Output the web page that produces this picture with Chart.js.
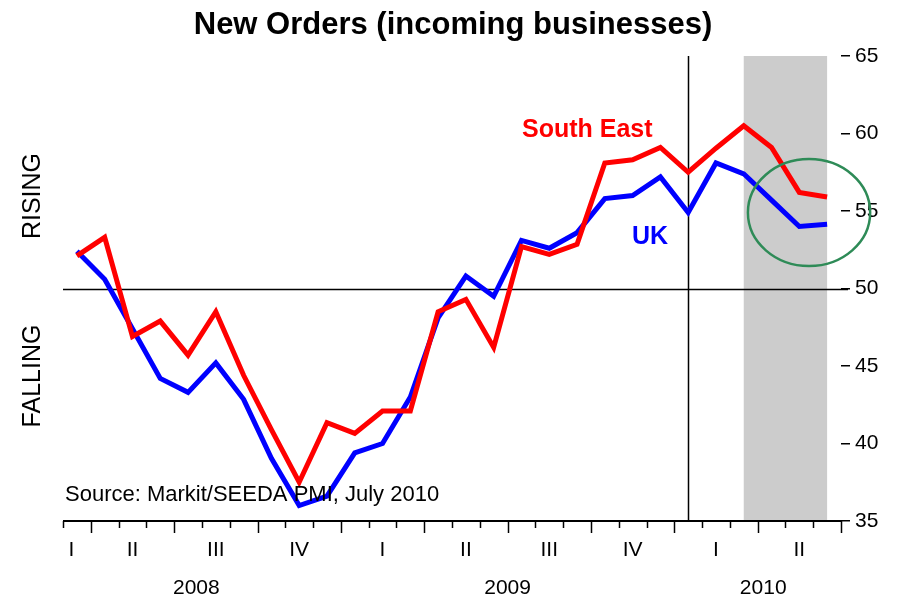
<!DOCTYPE html>
<html>
<head>
<meta charset="utf-8">
<script src="https://cdn.jsdelivr.net/npm/chart.js@4.4.1/dist/chart.umd.min.js"></script>
<style>
  html, body { margin: 0; padding: 0; background: #ffffff; }
  #wrap { width: 899px; height: 600px; }
</style>
</head>
<body>
<div id="wrap"><canvas id="c" width="899" height="600"></canvas></div>
<script>
// ---- Data (monthly, Mar 2008 .. Jun 2010) ----
const months = ['Mar 08','Apr 08','May 08','Jun 08','Jul 08','Aug 08','Sep 08','Oct 08','Nov 08','Dec 08',
                'Jan 09','Feb 09','Mar 09','Apr 09','May 09','Jun 09','Jul 09','Aug 09','Sep 09','Oct 09','Nov 09','Dec 09',
                'Jan 10','Feb 10','Mar 10','Apr 10','May 10','Jun 10'];
const southEast = [52.1, 53.3, 46.9, 47.9, 45.7, 48.5, 44.4, 40.9, 37.5, 41.35, 40.65, 42.1, 42.1, 48.5,
                   49.3, 46.2, 52.7, 52.2, 52.85, 58.1, 58.3, 59.1, 57.5, 59.05, 60.5, 59.1, 56.2, 55.9];
const uk        = [52.4, 50.6, 47.4, 44.2, 43.3, 45.2, 42.85, 39.05, 36.0, 36.6, 39.4, 40.0, 43.0, 48.1,
                   50.8, 49.5, 53.1, 52.6, 53.6, 55.8, 56.0, 57.2, 54.9, 58.1, 57.4, 55.7, 54.0, 54.15];
const quarterLabels = ['I','II','III','IV','I','II','III','IV','I','II'];
const quarterCenters = [-0.2, 2, 5, 8, 11, 14, 17, 20, 23, 26];   // in month-index units
const quarterBounds = [0.5, 3.5, 6.5, 9.5, 12.5, 15.5, 18.5, 21.5, 24.5, 27.5]; // tall ticks
const yearLabels = ['2008', '2009', '2010'];
const yearCenters = [4.3, 15.5, 24.7];
const yTicks = [35, 40, 45, 50, 55, 60, 65];
const referenceLevel = 50;
const markerMonth = 22;           // Jan 2010 vertical line
const shadeFrom = 24, shadeTo = 27; // Mar 2010 .. Jun 2010 shaded
const seriesNames = ['South East', 'UK'];

const FONT = '"Liberation Sans", Arial, Helvetica, sans-serif';

const decorPlugin = {
  id: 'decor',
  beforeDatasetsDraw(chart) {
    const ctx = chart.ctx, a = chart.chartArea;
    const xs = chart.scales.x, ys = chart.scales.y;
    ctx.save();
    ctx.fillStyle = '#cccccc';
    const x0 = xs.getPixelForValue(shadeFrom), x1 = xs.getPixelForValue(shadeTo);
    ctx.fillRect(x0, a.top, x1 - x0, a.bottom - a.top);
    ctx.strokeStyle = '#000';
    ctx.lineWidth = 1.5;
    const xm = Math.round(xs.getPixelForValue(markerMonth)) + 0.5;
    ctx.beginPath(); ctx.moveTo(xm, a.top); ctx.lineTo(xm, a.bottom); ctx.stroke();
    const y50 = Math.round(ys.getPixelForValue(referenceLevel)) + 0.5;
    ctx.beginPath(); ctx.moveTo(a.left, y50); ctx.lineTo(a.right + 7, y50); ctx.stroke();
    ctx.restore();
  },
  afterDatasetsDraw(chart) {
    const ctx = chart.ctx, a = chart.chartArea;
    const xs = chart.scales.x, ys = chart.scales.y;
    ctx.save();
    ctx.strokeStyle = '#000';
    ctx.lineWidth = 2;
    ctx.beginPath(); ctx.moveTo(a.left, a.bottom); ctx.lineTo(a.right, a.bottom); ctx.stroke();
    ctx.lineWidth = 1.5;
    for (let i = 0; i <= months.length; i++) {
      const v = i - 0.5;
      const px = Math.round(xs.getPixelForValue(v)) + 0.5;
      const tall = quarterBounds.indexOf(v) >= 0;
      ctx.beginPath(); ctx.moveTo(px, a.bottom); ctx.lineTo(px, a.bottom + (tall ? 12 : 7)); ctx.stroke();
    }
    ctx.fillStyle = '#000';
    ctx.font = '21px ' + FONT;
    ctx.textAlign = 'center';
    ctx.textBaseline = 'middle';
    quarterLabels.forEach((q, i) => ctx.fillText(q, xs.getPixelForValue(quarterCenters[i]), 550));
    yearLabels.forEach((y, i) => ctx.fillText(y, xs.getPixelForValue(yearCenters[i]), 588));
    ctx.strokeStyle = '#2e8b57';
    ctx.lineWidth = 2.5;
    const cx = xs.getPixelForValue(26.35), cy = ys.getPixelForValue(54.9);
    const rx = xs.getPixelForValue(26.35 + 2.2) - cx;
    const ry = ys.getPixelForValue(54.9) - ys.getPixelForValue(54.9 + 3.45);
    ctx.beginPath(); ctx.ellipse(cx, cy, rx, ry, 0, 0, Math.PI * 2); ctx.stroke();
    ctx.textAlign = 'left';
    ctx.textBaseline = 'alphabetic';
    ctx.font = 'bold 25px ' + FONT;
    ctx.fillStyle = '#ff0000';
    ctx.fillText(seriesNames[0], 522, 137);
    ctx.fillStyle = '#0000ff';
    ctx.fillText(seriesNames[1], 632, 244);
    ctx.fillStyle = '#000';
    ctx.font = '22px ' + FONT;
    ctx.fillText('Source: Markit/SEEDA PMI, July 2010', 65, 501);
    ctx.textAlign = 'center';
    ctx.font = 'bold 31px ' + FONT;
    ctx.fillText('New Orders (incoming businesses)', 453, 34);
    ctx.font = '25px ' + FONT;
    ctx.textBaseline = 'middle';
    ctx.save(); ctx.translate(33, 196); ctx.rotate(-Math.PI / 2); ctx.fillText('RISING', 0, 0); ctx.restore();
    ctx.save(); ctx.translate(33, 376); ctx.rotate(-Math.PI / 2); ctx.fillText('FALLING', 0, 0); ctx.restore();
    ctx.restore();
  }
};

new Chart(document.getElementById('c'), {
  type: 'line',
  data: {
    datasets: [
      { label: seriesNames[0], data: southEast.map((v, i) => ({ x: i, y: v })),
        borderColor: '#ff0000', borderWidth: 5, pointRadius: 0, tension: 0, borderJoinStyle: 'miter', fill: false },
      { label: seriesNames[1], data: uk.map((v, i) => ({ x: i, y: v })),
        borderColor: '#0000ff', borderWidth: 5, pointRadius: 0, tension: 0, borderJoinStyle: 'miter', fill: false }
    ]
  },
  options: {
    responsive: false,
    animation: false,
    events: [],
    layout: { padding: { left: 63, top: 56, bottom: 79, right: 0 } },
    plugins: { legend: { display: false }, title: { display: false }, tooltip: { enabled: false } },
    scales: {
      x: { type: 'linear', min: -0.5, max: 27.5, display: false },
      y: {
        position: 'right', min: 35, max: 65,
        afterBuildTicks: (s) => { s.ticks = yTicks.map(v => ({ value: v })); },
        afterFit: (s) => { s.width = 58; },
        border: { display: false },
        grid: { drawOnChartArea: false, drawTicks: true, tickLength: 9, color: '#000', lineWidth: 1.5 },
        ticks: { color: '#000', padding: 5, font: { family: FONT, size: 21 } }
      }
    }
  },
  plugins: [decorPlugin]
});
</script>
</body>
</html>
